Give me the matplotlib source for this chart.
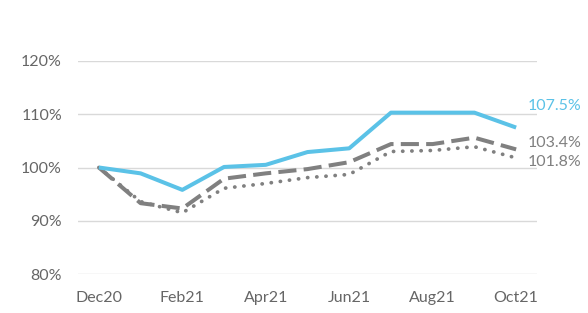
import matplotlib
matplotlib.use('Agg')
from matplotlib import pyplot as plt

months = ['Dec20', 'Jan21', 'Feb21', 'Mar21', 'Apr21', 'May21',
          'Jun21', 'Jul21', 'Aug21', 'Sep21', 'Oct21']
blue = [100.0, 98.9, 95.8, 100.1, 100.5, 102.9, 103.6, 110.3, 110.3, 110.3, 107.5]
dashed = [100.0, 93.3, 92.3, 97.9, 98.9, 99.7, 101.0, 104.4, 104.4, 105.6, 103.4]
dotted = [100.0, 93.6, 91.5, 96.1, 97.0, 98.1, 98.7, 103.0, 103.2, 103.9, 101.8]

plt.rcParams['font.family'] = ['Lato', 'DejaVu Sans']
txt = '#666666'
c_blue = '#5BC2E7'
c_gray = '#808080'

fig = plt.figure(figsize=(5.88, 3.13), dpi=100)
ax = fig.add_axes([78/588, 1-274/313, (537-78)/588, (274-61)/313])

x = list(range(len(months)))
ax.plot(x, blue, color=c_blue, lw=2.9, solid_capstyle='butt', zorder=3)
ax.plot(x, dashed, color=c_gray, lw=2.9, dashes=(4.5, 1.8), zorder=2)
ax.plot(x, dotted, color=c_gray, lw=2.7, dashes=(0.05, 2.4), dash_capstyle='round', zorder=2)

ax.set_xlim(-0.5, 10.5)
ax.set_ylim(80, 120)
ax.set_yticks([80, 90, 100, 110, 120])
ax.set_yticklabels([f'{v}%' for v in [80, 90, 100, 110, 120]])
ax.set_xticks(x[::2])
ax.set_xticklabels(months[::2])
ax.grid(axis='y', color='#d9d9d9', lw=1)
ax.set_axisbelow(True)
for s in ax.spines.values():
    s.set_visible(False)
ax.tick_params(length=0, labelsize=11.5, colors=txt)
ax.tick_params(axis='y', pad=11.5)
ax.tick_params(axis='x', pad=12)

# end labels
ax.text(10.28, 111.6, f'{blue[-1]}%', color=c_blue, fontsize=11.5, va='center', clip_on=False)
ax.text(10.28, 104.55, f'{dashed[-1]}%', color=c_gray, fontsize=11.5, va='center', clip_on=False)
ax.text(10.28, 101.1, f'{dotted[-1]}%', color=c_gray, fontsize=11.5, va='center', clip_on=False)

fig.savefig('out.png', dpi=100)
